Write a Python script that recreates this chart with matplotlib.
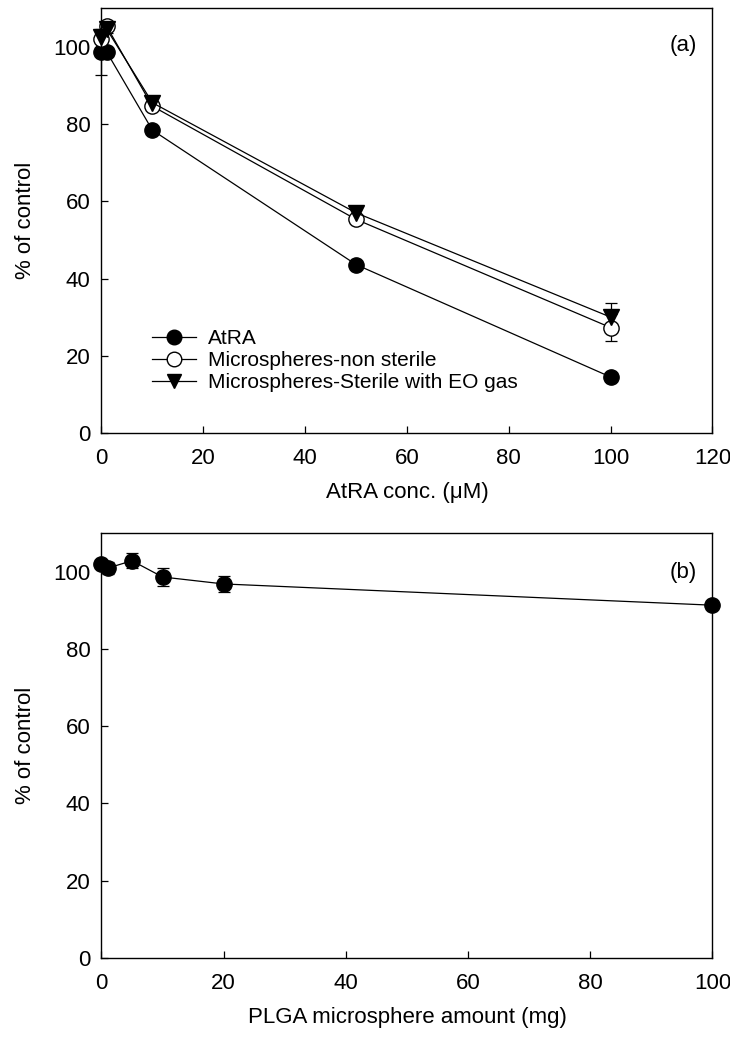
import matplotlib
matplotlib.use('Agg')
import matplotlib.pyplot as plt
from matplotlib.lines import Line2D

plt.rcParams['font.family'] = ['Liberation Sans', 'DejaVu Sans']

# panel (a): cell viability vs AtRA concentration
conc = [0, 1, 10, 50, 100]
atra = [98.7, 98.7, 78.4, 43.6, 14.5]
atra_err = [6.0, 0.8, 0.8, 0.8, 0.8]
ms_nonsterile = [102.0, 105.3, 84.6, 55.3, 27.3]
ms_nonsterile_err = [1.0, 1.0, 1.0, 1.0, 3.4]
ms_sterile = [102.6, 104.6, 85.5, 57.0, 30.0]
ms_sterile_err = [1.0, 1.0, 1.0, 1.0, 3.6]

# panel (b): cell viability vs PLGA microsphere amount
plga_amt = [0, 1, 5, 10, 20, 100]
plga_val = [102.0, 100.9, 102.8, 98.6, 96.8, 91.3]
plga_err = [0.8, 1.6, 2.0, 2.4, 2.0, 0.8]

series_labels = ['AtRA', 'Microspheres-non sterile', 'Microspheres-Sterile with EO gas']

fig = plt.figure(figsize=(7.3, 10.45), dpi=100)
ax1 = fig.add_axes([0.139, 0.5856, 0.837, 0.4067])
ax2 = fig.add_axes([0.139, 0.0833, 0.837, 0.4067])

kw = dict(color='black', lw=0.9, ms=11, capsize=4.3, elinewidth=0.9, capthick=0.9, clip_on=False)
ax1.errorbar(conc, atra, yerr=atra_err, fmt='-o', mfc='black', mec='black', **kw)
ax1.errorbar(conc, ms_nonsterile, yerr=ms_nonsterile_err, fmt='-o', mfc='white', mec='black', **kw)
ax1.errorbar(conc, ms_sterile, yerr=ms_sterile_err, fmt='-v', mfc='black', mec='black', **kw)

# legend handles without the error bar glyphs
handles = [
    Line2D([], [], color='black', lw=0.9, marker='o', ms=10.5, mfc='black', mec='black'),
    Line2D([], [], color='black', lw=0.9, marker='o', ms=10.5, mfc='white', mec='black'),
    Line2D([], [], color='black', lw=0.9, marker='v', ms=10.5, mfc='black', mec='black'),
]

ax1.set_xlim(0, 120)
ax1.set_ylim(0, 110)
ax1.set_xticks(range(0, 121, 20))
ax1.set_yticks(range(0, 101, 20))
ax1.set_xlabel('AtRA conc. (\u03bcM)', labelpad=9, fontsize=16)
ax1.set_ylabel('% of control', labelpad=12, fontsize=16)
ax1.text(0.975, 0.913, '(a)', transform=ax1.transAxes, ha='right', va='center', fontsize=16)
ax1.legend(handles, series_labels, loc='lower left', bbox_to_anchor=(0.082, 0.096), frameon=False,
           borderaxespad=0, borderpad=0, handlelength=2.15, handletextpad=0.55,
           labelspacing=0.15, fontsize=15)

ax2.errorbar(plga_amt, plga_val, yerr=plga_err, fmt='-o', mfc='black', mec='black', **kw)
ax2.set_xlim(0, 100)
ax2.set_ylim(0, 110)
ax2.set_xticks(range(0, 101, 20))
ax2.set_yticks(range(0, 101, 20))
ax2.set_xlabel('PLGA microsphere amount (mg)', labelpad=9, fontsize=16)
ax2.set_ylabel('% of control', labelpad=12, fontsize=16)
ax2.text(0.975, 0.908, '(b)', transform=ax2.transAxes, ha='right', va='center', fontsize=16)

for ax in (ax1, ax2):
    ax.tick_params(direction='in', length=5, width=0.9, labelsize=16)
    ax.tick_params(axis='y', pad=8)
    ax.tick_params(axis='x', pad=11)
    for sp in ax.spines.values():
        sp.set_linewidth(1.0)

fig.savefig('out.png', dpi=100)
